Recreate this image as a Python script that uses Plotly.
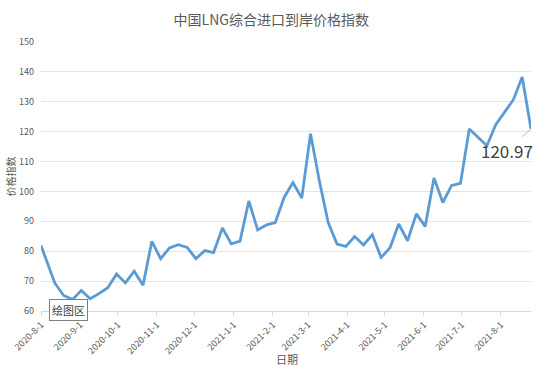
import plotly.graph_objects as go

dates = [
    "2020-08-01", "2020-08-12", "2020-08-19", "2020-08-26", "2020-09-02", "2020-09-09",
    "2020-09-16", "2020-09-23", "2020-09-30", "2020-10-07", "2020-10-14", "2020-10-21",
    "2020-10-28", "2020-11-04", "2020-11-11", "2020-11-18", "2020-11-25", "2020-12-02",
    "2020-12-09", "2020-12-16", "2020-12-23", "2020-12-30", "2021-01-06", "2021-01-13",
    "2021-01-20", "2021-01-27", "2021-02-03", "2021-02-10", "2021-02-17", "2021-02-24",
    "2021-03-03", "2021-03-10", "2021-03-17", "2021-03-24", "2021-03-31", "2021-04-07",
    "2021-04-14", "2021-04-21", "2021-04-28", "2021-05-05", "2021-05-12", "2021-05-19",
    "2021-05-26", "2021-06-02", "2021-06-09", "2021-06-16", "2021-06-23", "2021-06-30",
    "2021-07-07", "2021-07-14", "2021-07-21", "2021-07-28", "2021-08-04", "2021-08-11",
    "2021-08-18", "2021-08-25",
]
values = [
    81.9, 69.3, 65.2, 63.8, 66.9, 64.1, 65.8, 67.8, 72.4, 69.4, 73.3, 68.6,
    83.3, 77.5, 81.1, 82.2, 81.3, 77.5, 80.2, 79.5, 87.8, 82.5, 83.4, 96.8,
    87.1, 88.8, 89.6, 98.0, 103.0, 97.8, 119.3, 103.5, 89.6, 82.4, 81.6, 84.9,
    82.1, 85.5, 77.9, 81.1, 89.1, 83.5, 92.5, 88.3, 104.5, 96.3, 102.0, 102.7,
    120.9, 118.2, 115.3, 122.3, 126.5, 130.7, 138.3, 120.97,
]
tick_dates = [
    "2020-08-01", "2020-09-01", "2020-10-01", "2020-11-01", "2020-12-01", "2021-01-01",
    "2021-02-01", "2021-03-01", "2021-04-01", "2021-05-01", "2021-06-01", "2021-07-01",
    "2021-08-01",
]
tick_labels = [
    "2020-8-1", "2020-9-1", "2020-10-1", "2020-11-1", "2020-12-1", "2021-1-1",
    "2021-2-1", "2021-3-1", "2021-4-1", "2021-5-1", "2021-6-1", "2021-7-1", "2021-8-1",
]
y_ticks = [60, 70, 80, 90, 100, 110, 120, 130, 140, 150]

title_text = "中国LNG综合进口到岸价格指数"
x_title = "日期"
y_title = "价格指数"
font_cn = "Noto Sans CJK SC"
gray = "#595959"

W, H = 548, 371
L, R, T, B = 41, 17, 42, 60
plot_w, plot_h = W - L - R, H - T - B

fig = go.Figure()
fig.add_trace(go.Scatter(
    x=dates, y=values, mode="lines",
    line=dict(color="#5B9BD5", width=2.8),
    hoverinfo="x+y", showlegend=False,
))

fig.add_annotation(
    x=dates[-1], y=values[-1], xref="x", yref="y",
    text=f"{values[-1]:.2f}", showarrow=True, arrowhead=0, arrowwidth=0.8,
    arrowcolor="#A6A6A6", ax=-24, ay=22,
    font=dict(family=font_cn, size=17, color="#404040"),
)
fig.add_annotation(
    x=(68 - L) / plot_w, y=(H - B - 310) / plot_h, xref="paper", yref="paper",
    xanchor="center", yanchor="middle",
    text="绘图区", showarrow=False,
    bgcolor="white", bordercolor="#7F7F7F", borderwidth=1, borderpad=2,
    font=dict(family=font_cn, size=11, color="#404040"),
)
fig.add_annotation(
    x=(10 - L) / plot_w, y=0.5, xref="paper", yref="paper",
    text=y_title, showarrow=False, textangle=-90,
    xanchor="center", yanchor="middle",
    font=dict(family=font_cn, size=10, color=gray),
)
fig.add_annotation(
    x=(287 - L) / plot_w, y=-(359 - (H - B)) / plot_h, xref="paper", yref="paper",
    text=x_title, showarrow=False, xanchor="center", yanchor="middle",
    font=dict(family=font_cn, size=11, color=gray),
)

fig.update_layout(
    width=W, height=H,
    margin=dict(l=L, r=R, t=T, b=B, autoexpand=False),
    paper_bgcolor="white", plot_bgcolor="white",
    title=dict(text=title_text, x=0.495, xref="container", y=1 - 20 / H, yref="container",
               xanchor="center", yanchor="middle", automargin=False,
               font=dict(family=font_cn, size=14, color=gray)),
    font=dict(family=font_cn, color=gray),
    xaxis=dict(
        type="date", range=[dates[0], dates[-1]], automargin=False,
        tickvals=tick_dates, ticktext=tick_labels, tickangle=-45,
        tickfont=dict(size=9, color=gray),
        showgrid=False, zeroline=False,
        showline=True, linecolor="#D9D9D9", linewidth=1,
        ticks="outside", ticklen=4, tickcolor="#D9D9D9",
    ),
    yaxis=dict(
        range=[60, 150], tickvals=y_ticks, automargin=False,
        tickfont=dict(size=9, color=gray),
        showgrid=True, gridcolor="#E4E4E4", gridwidth=1,
        zeroline=False, showline=False, ticks="", ticklabelstandoff=6,
    ),
)

fig.write_html("out.html", config={"displayModeBar": False},
               post_script="document.body.style.margin='0';")
